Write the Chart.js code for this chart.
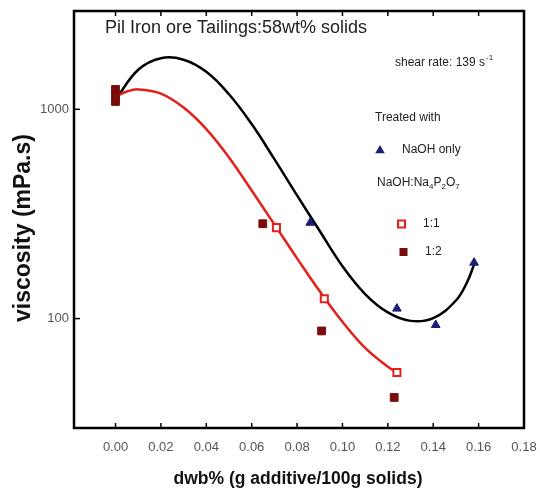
<!DOCTYPE html>
<html><head><meta charset="utf-8">
<script src="https://cdn.jsdelivr.net/npm/chart.js@4.4.0/dist/chart.umd.min.js"></script>
<style>html,body{margin:0;padding:0;background:#fff;}#wrap{width:540px;height:490px;position:relative;}</style>
</head><body><div id="wrap"><canvas id="c" width="540" height="490"></canvas></div>
<script>
const FONT = '"Liberation Sans", Arial, sans-serif';

// tick labels
const xTickValues = [0, 0.02, 0.04, 0.06, 0.08, 0.10, 0.12, 0.14, 0.16, 0.18];
const yTickValues = [100, 1000];

// measured points
const naohX = [0.0858, 0.124, 0.1411, 0.158];
const naohY = [287, 111.6, 93.2, 185];
const r11X = [0.0709, 0.092, 0.124];
const r11Y = [272, 124.5, 55.3];
const r12X = [0, 0, 0, 0.0649, 0.0908, 0.1228];
const r12Y = [1245, 1165, 1090, 284, 87.3, 42.0];

// fitted curves
const blackX = [0, 0.01, 0.02, 0.03, 0.04, 0.05, 0.06, 0.07, 0.08, 0.09, 0.10, 0.11, 0.12, 0.13, 0.14, 0.15, 0.155, 0.158];
const blackY = [1110, 1545, 1755, 1725, 1510, 1180, 850, 578, 388, 262, 178, 131, 107, 97.5, 100.5, 122, 150, 181];
const redX = [0, 0.005, 0.01, 0.02, 0.03, 0.04, 0.05, 0.06, 0.07, 0.08, 0.09, 0.10, 0.11, 0.12, 0.124];
const redY = [1148, 1216, 1245, 1189, 1019, 804, 589, 409, 282, 194, 135, 96.6, 72.4, 58.9, 55.3];

const zip = (xs, ys) => xs.map((x, i) => ({x: x, y: ys[i]}));

const NAVY = '#1c1c7a', RED = '#e3211c', DARKRED = '#7a0c0c';

function drawTri(ctx, x, y, r, color) {
  ctx.beginPath();
  ctx.moveTo(x, y - r);
  ctx.lineTo(x + r * 0.95, y + r * 0.65);
  ctx.lineTo(x - r * 0.95, y + r * 0.65);
  ctx.closePath();
  ctx.fillStyle = color; ctx.fill();
}

const framePlugin = {
  id: 'frame',
  afterDatasetsDraw(chart) {
    const ctx = chart.ctx, a = chart.chartArea;
    const xs = chart.scales.x, ys = chart.scales.y;
    ctx.save();
    ctx.strokeStyle = '#000';
    ctx.lineWidth = 1.5;
    xTickValues.forEach(v => {
      const px = xs.getPixelForValue(v);
      ctx.beginPath(); ctx.moveTo(px, a.bottom); ctx.lineTo(px, a.bottom - 5); ctx.stroke();
      ctx.beginPath(); ctx.moveTo(px, a.top); ctx.lineTo(px, a.top + 5); ctx.stroke();
    });
    yTickValues.forEach(v => {
      const py = ys.getPixelForValue(v);
      ctx.beginPath(); ctx.moveTo(a.left, py); ctx.lineTo(a.left + 6, py); ctx.stroke();
    });
    ctx.lineWidth = 2.5;
    ctx.strokeRect(a.left, a.top, a.right - a.left, a.bottom - a.top);
    ctx.restore();
  },
  afterDraw(chart) {
    const ctx = chart.ctx;
    ctx.save();
    ctx.textBaseline = 'middle';
    ctx.textAlign = 'left';
    ctx.fillStyle = '#222';
    ctx.font = '18px ' + FONT;
    ctx.fillText('Pil Iron ore Tailings:58wt% solids', 105, 28);

    ctx.font = '12px ' + FONT;
    ctx.fillText('shear rate: 139 s', 395, 63);
    let w = ctx.measureText('shear rate: 139 s').width;
    ctx.font = '8px ' + FONT;
    ctx.fillText('-1', 395 + w + 1, 58);

    ctx.font = '12px ' + FONT;
    ctx.fillText('Treated with', 375, 118);
    drawTri(ctx, 380, 150, 5, NAVY);
    ctx.fillStyle = '#222';
    ctx.fillText('NaOH only', 402, 150);

    // NaOH:Na4P2O7 with subscripts
    let x = 377;
    const parts = [['NaOH:Na', false], ['4', true], ['P', false], ['2', true], ['O', false], ['7', true]];
    parts.forEach(p => {
      ctx.font = (p[1] ? '8px ' : '12px ') + FONT;
      ctx.fillText(p[0], x, p[1] ? 187 : 183);
      x += ctx.measureText(p[0]).width;
    });

    ctx.font = '12px ' + FONT;
    ctx.fillStyle = '#fff'; ctx.strokeStyle = RED; ctx.lineWidth = 2;
    ctx.fillRect(398, 220.5, 7, 7); ctx.strokeRect(398, 220.5, 7, 7);
    ctx.fillStyle = '#222';
    ctx.fillText('1:1', 423, 224);
    ctx.fillStyle = DARKRED;
    ctx.fillRect(399.5, 248, 8, 8);
    ctx.fillStyle = '#222';
    ctx.fillText('1:2', 425, 252);

    // axis titles
    ctx.fillStyle = '#111';
    ctx.textAlign = 'center';
    ctx.font = 'bold 17.5px ' + FONT;
    ctx.fillText('dwb% (g additive/100g solids)', 298, 479);
    ctx.font = 'bold 23px ' + FONT;
    ctx.translate(24, 228);
    ctx.rotate(-Math.PI / 2);
    ctx.fillText('viscosity (mPa.s)', 0, 0);
    ctx.restore();
  }
};

new Chart(document.getElementById('c'), {
  type: 'scatter',
  data: {
    datasets: [
      {label: 'NaOH only', data: zip(naohX, naohY), pointStyle: 'triangle', pointRadius: 5, pointBackgroundColor: NAVY, pointBorderColor: NAVY, pointBorderWidth: 1},
      {label: '1:1', data: zip(r11X, r11Y), pointStyle: 'rect', pointRadius: 5, pointBackgroundColor: '#fff', pointBorderColor: RED, pointBorderWidth: 2},
      {label: '1:2', data: zip(r12X, r12Y), pointStyle: 'rect', pointRadius: 5.5, pointBackgroundColor: DARKRED, pointBorderColor: DARKRED, pointBorderWidth: 1},
      {label: 'fit 1:1', data: zip(redX, redY), showLine: true, pointRadius: 0, borderColor: RED, borderWidth: 2.5, tension: 0.4, fill: false},
      {label: 'fit NaOH', data: zip(blackX, blackY), showLine: true, pointRadius: 0, borderColor: '#000', borderWidth: 2.5, tension: 0.4, fill: false}
    ]
  },
  options: {
    responsive: false,
    animation: false,
    layout: {padding: {top: 11, right: 16, left: 0, bottom: 0}},
    plugins: {legend: {display: false}, tooltip: {enabled: false}},
    scales: {
      x: {
        type: 'linear', min: -0.0183, max: 0.18,
        grid: {display: false, drawTicks: false}, border: {display: false},
        afterBuildTicks: s => { s.ticks = xTickValues.map(v => ({value: v})); },
        afterFit: s => { s.height = 62; s.paddingLeft = 0; s.paddingRight = 0; },
        ticks: {color: '#555', font: {family: FONT, size: 13}, padding: 12, maxRotation: 0, autoSkip: false,
          callback: v => Number(v).toFixed(2)}
      },
      y: {
        type: 'logarithmic', min: 30, max: 2950,
        grid: {display: false, drawTicks: false}, border: {display: false},
        afterBuildTicks: s => { s.ticks = yTickValues.map(v => ({value: v})); },
        afterFit: s => { s.width = 74; s.paddingTop = 0; s.paddingBottom = 0; },
        ticks: {color: '#555', font: {family: FONT, size: 13}, padding: 5, autoSkip: false,
          callback: v => String(v)}
      }
    }
  },
  plugins: [framePlugin]
});
</script>
</body></html>
